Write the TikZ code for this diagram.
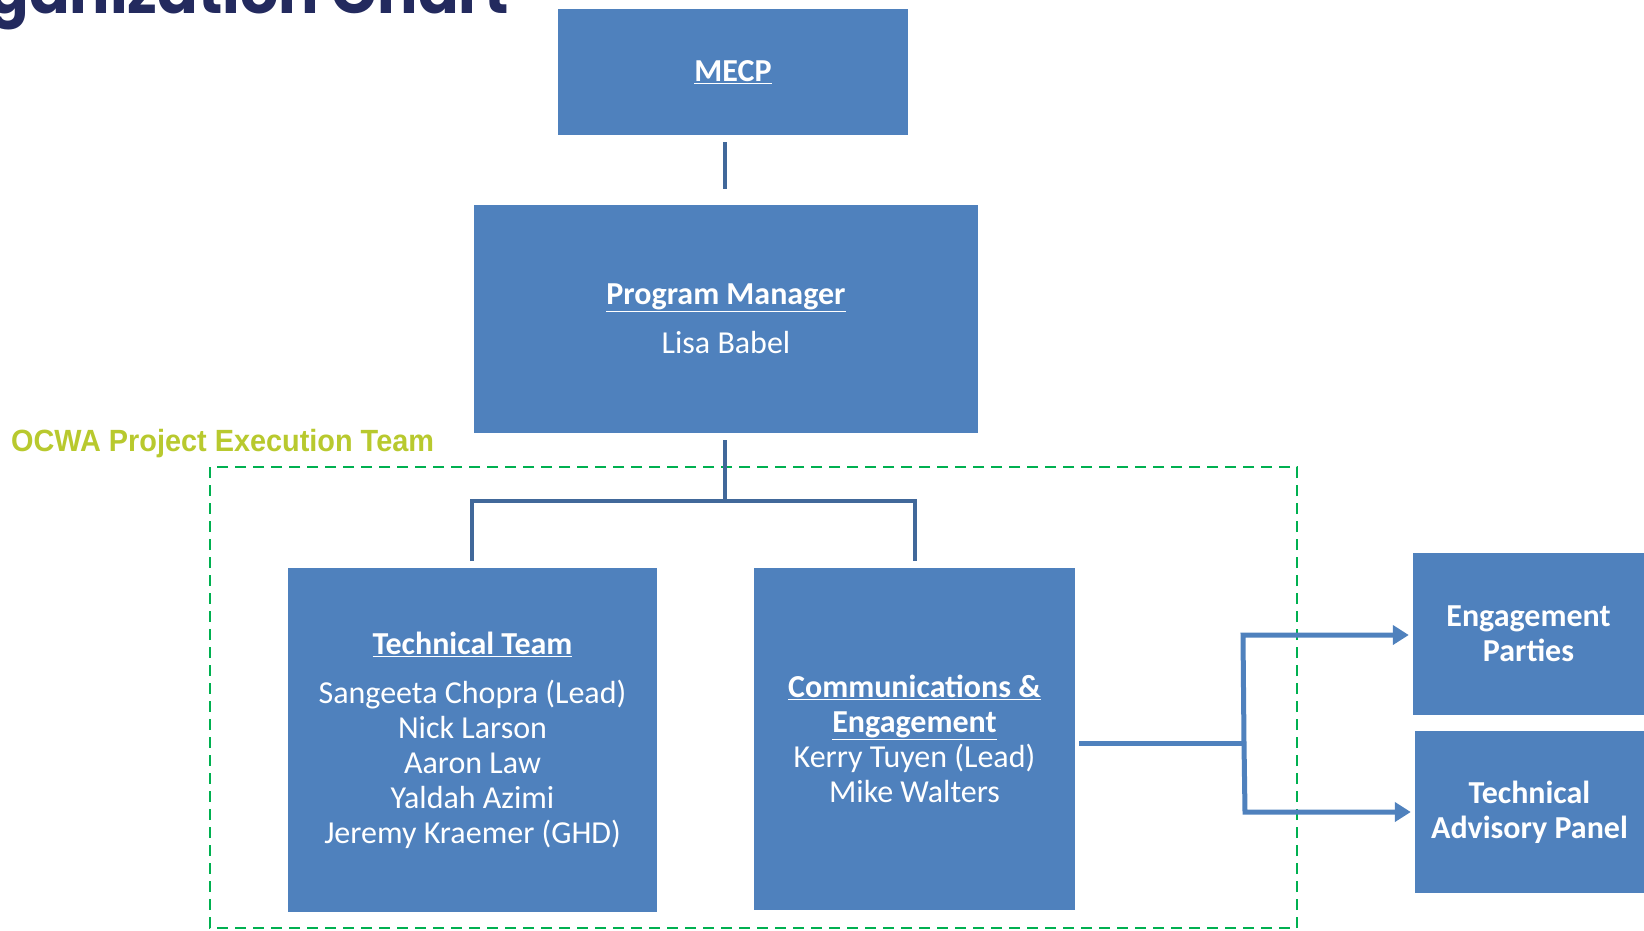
\documentclass[tikz,border=0pt]{standalone}
\usepackage{fontspec}
\setmainfont{Carlito}
\newfontfamily\titlefont{Poppins}
\newfontfamily\labelfont{Liberation Sans}
\usetikzlibrary{arrows.meta}
\definecolor{boxblue}{RGB}{79,129,189}
\definecolor{treeblue}{RGB}{65,104,154}
\definecolor{navy}{RGB}{35,42,94}
\definecolor{dashgreen}{RGB}{0,176,80}
\definecolor{lime}{RGB}{184,201,46}
\tikzset{
  orgbox/.style={fill=boxblue, draw=none, text=white, inner sep=0pt, align=center,
    font=\fontsize{32}{35}\selectfont},
  treeline/.style={draw=treeblue, line width=4pt, line cap=butt},
  arrowline/.style={draw=boxblue, line width=5pt, -{Triangle[length=16pt,width=19pt]}},
}
\begin{document}
\begin{tikzpicture}[x=1pt,y=-1pt]
\useasboundingbox (0,0) rectangle (1644,930);
% title (cut at top)
\node[anchor=base east, inner sep=0pt, text=navy, font=\titlefont\bfseries\fontsize{60}{60}\selectfont] (title) at (509,13) {Organization Chart};
% dashed team frame
\draw[dashgreen, line width=2pt, dash pattern=on 11pt off 7pt] (210,467) rectangle (1297,928);
\node[anchor=base west, inner sep=0pt, text=lime, xscale=0.94, font=\labelfont\bfseries\fontsize{30.7}{32}\selectfont] (ocwa) at (11,451) {OCWA Project Execution Team};
% boxes
\node[orgbox, minimum width=350pt, minimum height=126pt] (mecp) at (733,72) {\textbf{\underline{MECP}}};
\node[orgbox, minimum width=504pt, minimum height=228pt] (pm) at (726,319) {\textbf{\underline{Program Manager}}\\[14pt]Lisa Babel};
\node[orgbox, minimum width=369pt, minimum height=344pt] (tech) at (472.5,740) {\textbf{\underline{Technical Team}}\\[14pt]Sangeeta Chopra (Lead)\\Nick Larson\\Aaron Law\\Yaldah Azimi\\Jeremy Kraemer (GHD)};
\node[orgbox, minimum width=321pt, minimum height=342pt] (comm) at (914.5,739) {\textbf{\underline{Communications \&}}\\\textbf{\underline{Engagement}}\\Kerry Tuyen (Lead)\\Mike Walters};
\node[orgbox, minimum width=231pt, minimum height=162pt] (eng) at (1528.5,634) {\textbf{Engagement}\\\textbf{Parties}};
\node[orgbox, minimum width=229pt, minimum height=162pt] (tap) at (1529.5,812) {\textbf{Technical}\\\textbf{Advisory Panel}};
% connectors
\coordinate (mtop) at (725,142);
\coordinate (mbot) at (725,189);
\draw[treeline] (mtop) -- (mbot);
\coordinate (pmb) at (725,440);
\coordinate (junc) at (725,501);
\coordinate (tl) at (472,501);
\coordinate (tr) at (915,501);
\coordinate (tt) at (472,561);
\coordinate (ct) at (915,561);
\draw[treeline] (pmb) -- (junc);
\draw[treeline, line join=miter] (tt) -- (tl) -- (tr) -- (ct);
\coordinate (cout) at (1079,743);
\coordinate (split) at (1244,743);
\coordinate (up) at (1243,635);
\coordinate (dn) at (1245,812);
\draw[draw=boxblue, line width=5pt] (cout) -- (split);
\draw[arrowline] (split) -- (up) -- ([xshift=-4pt]eng.west |- up);
\draw[arrowline] (split) -- (dn) -- ([xshift=-4pt]tap.west |- dn);
\end{tikzpicture}
\end{document}
